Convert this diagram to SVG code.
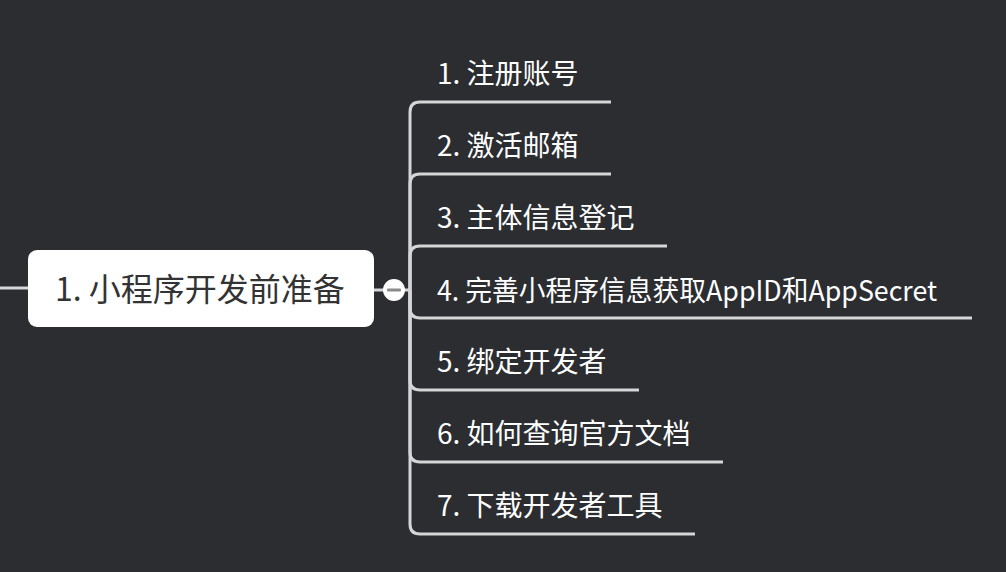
<svg xmlns="http://www.w3.org/2000/svg" width="1006" height="572" viewBox="0 0 1006 572">
<style>
.bg{fill:#2b2d31}
.ln{fill:none;stroke:#d6d6d8;stroke-width:3}
.lt{font-family:"Noto Sans CJK SC","Noto Sans",sans-serif;font-size:28px;fill:#ffffff}
.ct{font-family:"Noto Sans CJK SC","Noto Sans",sans-serif;font-size:32px;fill:#333333}
</style>
<rect class="bg" x="0" y="0" width="1006" height="572"/>
<g id="connectors">
<path class="ln" d="M0 288 H28" stroke="#c4c4c4"/>
<path class="ln" d="M374 290 H410"/>
<path class="ln" d="M410 290 V112 Q410 102 420 102 H611"/>
<path class="ln" d="M410 290 V184 Q410 174 420 174 H611"/>
<path class="ln" d="M410 290 V256 Q410 246 420 246 H667"/>
<path class="ln" d="M410 290 V308 Q410 318 420 318 H972"/>
<path class="ln" d="M410 290 V380 Q410 390 420 390 H639"/>
<path class="ln" d="M410 290 V452 Q410 462 420 462 H723"/>
<path class="ln" d="M410 290 V524 Q410 534 420 534 H695"/>
</g>
<g id="root">
<rect x="28" y="250" width="346" height="77" rx="9" fill="#ffffff"/>
<text class="ct" x="55" y="301">1. 小程序开发前准备</text>
</g>
<g id="collapse">
<circle cx="394" cy="290" r="11" fill="#ffffff"/>
<rect x="387" y="288.5" width="14" height="3" rx="1" fill="#8a8a8a"/>
</g>
<g id="n1"><text class="lt" x="437" y="84">1. 注册账号</text></g>
<g id="n2"><text class="lt" x="437" y="156">2. 激活邮箱</text></g>
<g id="n3"><text class="lt" x="437" y="228">3. 主体信息登记</text></g>
<g id="n4"><text class="lt" x="437" y="301" textLength="500" lengthAdjust="spacingAndGlyphs">4. 完善小程序信息获取AppID和AppSecret</text></g>
<g id="n5"><text class="lt" x="437" y="372">5. 绑定开发者</text></g>
<g id="n6"><text class="lt" x="437" y="444">6. 如何查询官方文档</text></g>
<g id="n7"><text class="lt" x="437" y="516">7. 下载开发者工具</text></g>
</svg>
